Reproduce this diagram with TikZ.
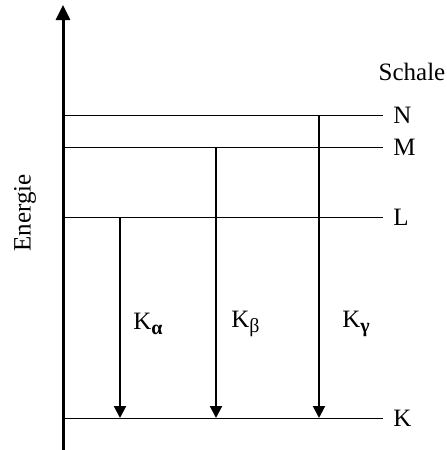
\documentclass[tikz,border=0pt]{standalone}
\usepackage{fontspec}
\setmainfont{Liberation Serif}
\usetikzlibrary{arrows.meta}
\newcommand{\lowsub}[1]{\raisebox{-0.45ex}{\fontsize{10}{12}\selectfont #1}}

\begin{document}
\begin{tikzpicture}[x=0.5pt,y=-0.5pt,
    level/.style={line width=0.5pt},
    transition/.style={line width=1pt,-{Triangle[length=6pt,width=6pt]}},
    lbl/.style={font=\fontsize{12.5}{14}\selectfont, inner sep=0pt}]
  \useasboundingbox (0,0) rectangle (446,450);
  % energy axis
  \coordinate (axbot) at (63,452);
  \coordinate (axtop) at (63,5);
  \draw[line width=1.5pt,-{Triangle[length=7.5pt,width=7pt]}] (axbot) -- (axtop);
  \node[lbl, rotate=90] (energie) at (25,213) {Energie};
  \node[lbl] (schale) at (412,72) {Schale};
  % shells
  \foreach \name/\y in {N/115, M/147, L/217, K/418} {
    \coordinate (\name0) at (63,\y);
    \coordinate (\name1) at (383,\y);
    \node[lbl, anchor=west] (\name) at (393,\y) {\name};
    \draw[level] (\name0) -- (\name1);
  }
  % transitions
  \coordinate (aTop) at (120,217);
  \coordinate (aBot) at (120,418);
  \coordinate (bTop) at (216,147);
  \coordinate (bBot) at (216,418);
  \coordinate (gTop) at (319,115);
  \coordinate (gBot) at (319,418);
  \draw[transition] (aTop) -- (aBot);
  \draw[transition] (bTop) -- (bBot);
  \draw[transition] (gTop) -- (gBot);
  \node[lbl, anchor=west] (kalpha) at (133,324) {K\lowsub{\textbf{α}}};
  \node[lbl, anchor=west] (kbeta) at (231,324) {K\lowsub{β}};
  \node[lbl, anchor=west] (kgamma) at (342,324) {K\lowsub{\textbf{γ}}};
\end{tikzpicture}
\end{document}
